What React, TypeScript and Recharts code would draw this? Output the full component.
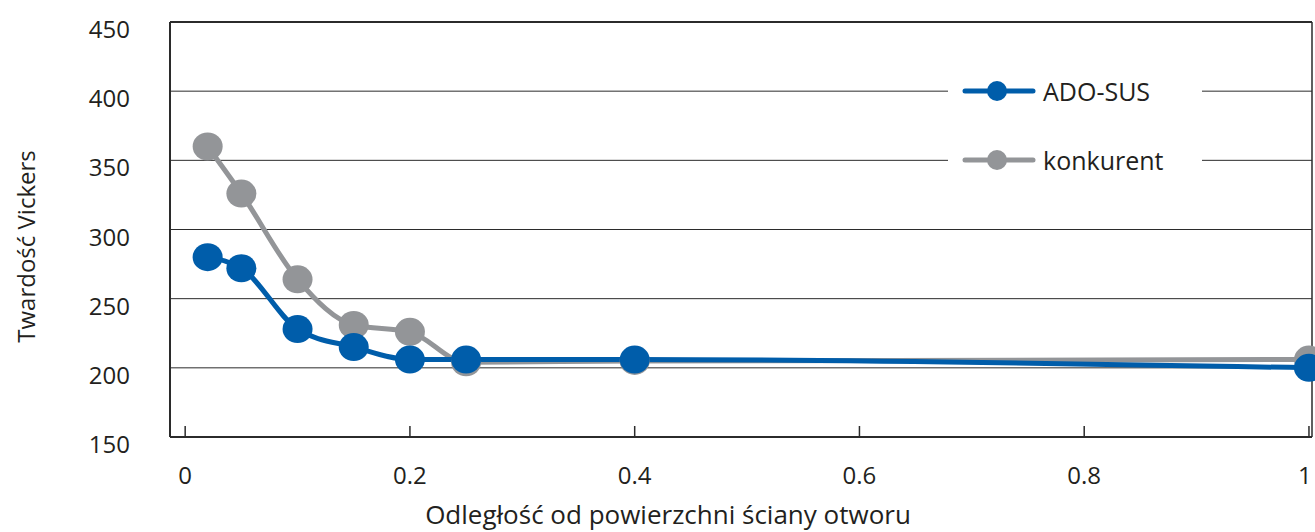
import React from 'react';
import {
  LineChart,
  Line,
  XAxis,
  YAxis,
  CartesianGrid,
  ReferenceLine,
  Legend,
} from 'recharts';

const distance = [0.02, 0.05, 0.1, 0.15, 0.2, 0.25, 0.4, 1];
const adoSus = [280, 272, 228, 215, 206, 206, 206, 200];
const konkurent = [360, 326, 264, 231, 226, 204, 205, 206];

const xTicks = [0, 0.2, 0.4, 0.6, 0.8, 1];
const yTicks = [150, 200, 250, 300, 350, 400, 450];

const data = distance.map((d, i) => ({ distance: d, ado: adoSus[i], konk: konkurent[i] }));

const FONT = '"Open Sans", "Noto Sans", sans-serif';
const TEXT = '#231f20';
const AXIS = '#2b2b2b';
const BLUE = '#005daa';
const GRAY = '#939598';
const X_MIN = -0.0135;
const X_MAX = 1.0027;

const legendOrder = ['ADO-SUS', 'konkurent'];

function makeDot(color: string) {
  return (props: any) => (
    <ellipse key={props.index} cx={props.cx} cy={props.cy} rx={15} ry={14} fill={color} />
  );
}

function XTick({ x, y, payload }: any) {
  const last = payload.value === 1;
  return (
    <g>
      <line x1={x} x2={x} y1={y} y2={y - 11} stroke={AXIS} strokeWidth={1.5} />
      <text x={last ? x - 4 : x} y={y + 47} textAnchor="middle" fontSize={24} fill={TEXT} fontFamily={FONT}>
        {payload.value}
      </text>
    </g>
  );
}

function YTick({ x, y, payload }: any) {
  return (
    <text x={x - 40} y={y + 16} textAnchor="end" fontSize={24} fill={TEXT} fontFamily={FONT}>
      {payload.value}
    </text>
  );
}

function LegendBox({ payload }: any) {
  const items = [...(payload || [])].sort(
    (a: any, b: any) => legendOrder.indexOf(a.value) - legendOrder.indexOf(b.value)
  );
  return (
    <div style={{ background: '#fff', width: 254, height: 120, position: 'relative', fontFamily: FONT }}>
      {items.map((p: any, i: number) => (
        <div
          key={p.value}
          style={{ position: 'absolute', left: 0, top: 5 + i * 69, height: 40, display: 'flex', alignItems: 'center' }}
        >
          <svg width={95} height={40}>
            <line x1={17} x2={85} y1={20} y2={20} stroke={p.color} strokeWidth={5} strokeLinecap="round" />
            <ellipse cx={49} cy={20} rx={10} ry={10} fill={p.color} />
          </svg>
          <span style={{ fontSize: 25, color: TEXT, lineHeight: '40px' }}>{p.value}</span>
        </div>
      ))}
    </div>
  );
}

export default function App() {
  return (
    <div style={{ position: 'absolute', left: 0, top: 0, background: '#fff' }}>
      <LineChart width={1315} height={532} data={data} margin={{ top: 22, right: 3, bottom: 0, left: 0 }}>
        <CartesianGrid vertical={false} stroke={AXIS} strokeWidth={1} />
        <XAxis
          dataKey="distance"
          type="number"
          domain={[X_MIN, X_MAX]}
          ticks={xTicks}
          height={95}
          tickLine={false}
          tickSize={0}
          tickMargin={0}
          axisLine={{ stroke: AXIS, strokeWidth: 2 }}
          tick={<XTick />}
          label={{
            content: ({ viewBox }: any) => (
              <text
                x={viewBox.x + viewBox.width / 2 - 73}
                y={viewBox.y + 87}
                textAnchor="middle"
                fontSize={26}
                fill={TEXT}
                fontFamily={FONT}
              >
                Odległość od powierzchni ściany otworu
              </text>
            ),
          }}
        />
        <YAxis
          type="number"
          domain={[150, 450]}
          ticks={yTicks}
          width={170}
          tickLine={false}
          tickSize={0}
          tickMargin={0}
          axisLine={{ stroke: AXIS, strokeWidth: 2 }}
          tick={<YTick />}
          label={{
            content: ({ viewBox }: any) => {
              const cx = viewBox.x + 35;
              const cy = viewBox.y + viewBox.height / 2 + 17;
              return (
                <text
                  x={cx}
                  y={cy}
                  transform={`rotate(-90 ${cx} ${cy})`}
                  textAnchor="middle"
                  fontSize={24}
                  fill={TEXT}
                  fontFamily={FONT}
                >
                  Twardość Vickers
                </text>
              );
            },
          }}
        />
        <ReferenceLine y={450} stroke={AXIS} strokeWidth={2} />
        <ReferenceLine x={X_MAX} stroke={AXIS} strokeWidth={1.5} />
        <Legend
          layout="vertical"
          align="center"
          verticalAlign="middle"
          content={<LegendBox />}
          wrapperStyle={{ left: 948, top: 66, width: 254, height: 120 }}
        />
        <Line
          name="konkurent"
          dataKey="konk"
          type="monotone"
          stroke={GRAY}
          strokeWidth={5}
          dot={makeDot(GRAY)}
          activeDot={false}
          isAnimationActive={false}
        />
        <Line
          name="ADO-SUS"
          dataKey="ado"
          type="monotone"
          stroke={BLUE}
          strokeWidth={5}
          dot={makeDot(BLUE)}
          activeDot={false}
          isAnimationActive={false}
        />
      </LineChart>
    </div>
  );
}
